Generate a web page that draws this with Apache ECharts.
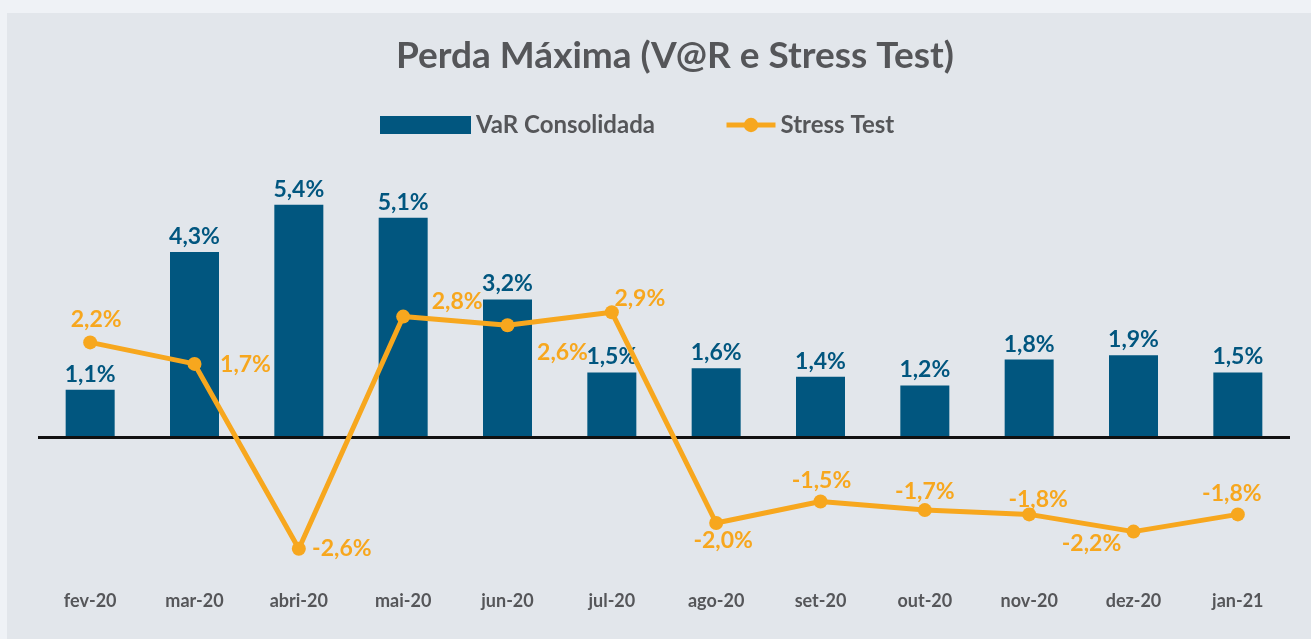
<!DOCTYPE html>
<html>
<head>
<meta charset="utf-8">
<script src="https://cdn.jsdelivr.net/npm/echarts@6/dist/echarts.min.js"></script>
<style>
    html, body { margin: 0; padding: 0; background: #eff2f6; }
    #main { position: absolute; left: 7px; top: 13px; width: 1304px; height: 626px; background: #e2e6eb; }
</style>
</head>
<body>
<div id="main"></div>
<script>
const months = ['fev-20', 'mar-20', 'abri-20', 'mai-20', 'jun-20', 'jul-20', 'ago-20', 'set-20', 'out-20', 'nov-20', 'dez-20', 'jan-21'];
const varConsolidada = [1.1, 4.3, 5.4, 5.1, 3.2, 1.5, 1.6, 1.4, 1.2, 1.8, 1.9, 1.5];
const stressTest = [2.2, 1.7, -2.6, 2.8, 2.6, 2.9, -2.0, -1.5, -1.7, -1.8, -2.2, -1.8];

(function () {
    const navy = '#01567f';
    const orange = '#f7a71e';
    const gray = '#555659';
    const font = 'Lato';

    // label offsets for the stress line (label centre relative to the point)
    const stressLabelOffsets = [[6, -23], [51, 1], [43, 0], [54, -15], [55, 27], [28, -14],
        [7, 18], [1, -21], [0, -19], [9, -15], [-42, 12], [-6, -21]];

    const fmt = v => v.toFixed(1).replace('.', ',') + '%';

    let myChart = echarts.init(document.getElementById('main'));
    let option = {
        animation: false,
        title: {
            text: 'Perda Máxima (V@R e Stress Test)',
            left: 663,
            textAlign: 'center',
            top: 20,
            textStyle: { color: gray, fontFamily: font, fontWeight: 'bold', fontSize: 37 }
        },
        legend: [{
            data: [{ name: 'VaR Consolidada', icon: 'rect' }],
            left: 368,
            top: 95,
            itemWidth: 91,
            itemHeight: 18,
            itemGap: 10,
            selectedMode: false,
            textStyle: { color: gray, fontFamily: font, fontWeight: 'bold', fontSize: 24 }
        }, {
            data: ['Stress Test'],
            left: 712,
            top: 95,
            itemWidth: 49,
            itemHeight: 18,
            selectedMode: false,
            lineStyle: { width: 5 },
            textStyle: { color: gray, fontFamily: font, fontWeight: 'bold', fontSize: 24 }
        }],
        grid: {
            left: 31,
            right: 21,
            top: 166,
            bottom: 73
        },
        xAxis: [{
            type: 'category',
            data: months,
            axisTick: { show: false },
            axisLine: { show: false },
            axisLabel: { color: gray, fontFamily: font, fontWeight: 'bold', fontSize: 18, margin: 26 }
        }],
        yAxis: [{
            type: 'value',
            min: -3,
            max: 6,
            interval: 1,
            show: false,
            splitLine: { show: false }
        }],
        series: [{
            name: 'VaR Consolidada',
            type: 'bar',
            barWidth: 49,
            itemStyle: { color: navy },
            label: {
                show: true,
                position: 'top',
                distance: 4,
                color: navy,
                fontFamily: font,
                fontWeight: 'bold',
                fontSize: 23,
                formatter: p => fmt(p.value)
            },
            markLine: {
                silent: true,
                symbol: 'none',
                label: { show: false },
                lineStyle: { color: '#111', width: 3, type: 'solid' },
                data: [{ yAxis: 0 }]
            },
            data: varConsolidada
        }, {
            name: 'Stress Test',
            type: 'line',
            symbol: 'circle',
            symbolSize: 14,
            z: 5,
            itemStyle: { color: orange },
            lineStyle: { color: orange, width: 5 },
            label: {
                show: true,
                color: orange,
                fontFamily: font,
                fontWeight: 'bold',
                fontSize: 23,
                formatter: p => fmt(p.value)
            },
            data: stressTest.map((v, i) => ({
                value: v,
                label: { position: 'inside', offset: stressLabelOffsets[i] }
            }))
        }]
    };
    myChart.setOption(option);
})();
</script>
</body>
</html>
